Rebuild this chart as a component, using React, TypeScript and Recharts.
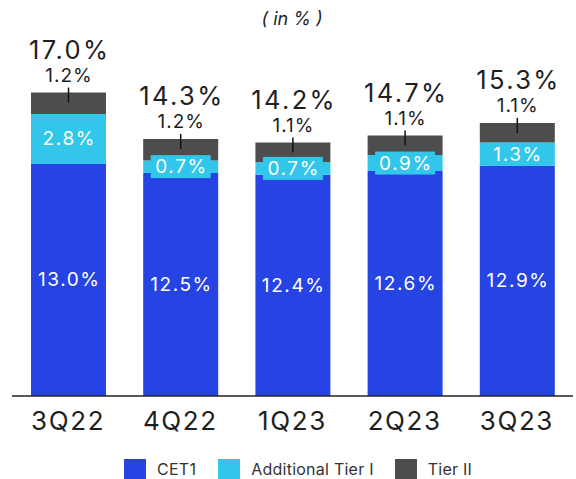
import React from "react";
import { BarChart, Bar, XAxis, YAxis, LabelList } from "recharts";

const quarters = ["3Q22", "4Q22", "1Q23", "2Q23", "3Q23"];
const cet1 = [13.0, 12.5, 12.4, 12.6, 12.9];
const additionalTier1 = [2.8, 0.7, 0.7, 0.9, 1.3];
const tier2 = [1.2, 1.2, 1.1, 1.1, 1.1];
const totals = [17.0, 14.3, 14.2, 14.7, 15.3];

const COLORS = { cet1: "#2643E4", at1: "#32C6EB", tier2: "#4D4D4D" };
const FONT = "Inter, 'Open Sans', sans-serif";
const TEXT = "#1f1f1f";

const data = quarters.map((q, i) => ({
  quarter: q,
  cet1: cet1[i],
  at1: additionalTier1[i],
  tier2: tier2[i],
  total: totals[i],
}));

const pct = (v: number) => `${v.toFixed(1)}%`;

const Cet1Label = (props: any) => {
  const { x, y, width, height, value } = props;
  return (
    <text
      x={x + width / 2 + 0.8}
      y={y + height / 2}
      textAnchor="middle"
      dominantBaseline="central"
      fill="#ffffff"
      fontSize={19}
      letterSpacing={1.6}
      fontFamily={FONT}
    >
      {pct(value)}
    </text>
  );
};

const At1Label = (props: any) => {
  const { x, y, width, height, value } = props;
  const cx = x + width / 2;
  const cy = y + height / 2;
  const bw = 60;
  const bh = 23;
  return (
    <g>
      <rect x={cx - bw / 2} y={cy - bh / 2} width={bw} height={bh} fill={COLORS.at1} />
      <text
        x={cx + 0.8}
        y={cy}
        textAnchor="middle"
        dominantBaseline="central"
        fill="#ffffff"
        fontSize={19}
        letterSpacing={1.6}
        fontFamily={FONT}
      >
        {pct(value)}
      </text>
    </g>
  );
};

const Tier2Label = (props: any) => {
  const { x, y, width, value, index } = props;
  const cx = x + width / 2;
  return (
    <g>
      <line x1={cx} x2={cx} y1={y - 5} y2={y + 10} stroke="#111" strokeWidth={1.5} />
      <text
        x={cx + 0.5}
        y={y - 17}
        textAnchor="middle"
        dominantBaseline="central"
        fill={TEXT}
        fontSize={19}
        letterSpacing={1}
        fontFamily={FONT}
      >
        {pct(value)}
      </text>
      <text
        x={cx + 1.2}
        y={y - 43}
        textAnchor="middle"
        dominantBaseline="central"
        fill={TEXT}
        fontSize={25.5}
        letterSpacing={2.4}
        fontFamily={FONT}
      >
        {pct(totals[index])}
      </text>
    </g>
  );
};

const legendItems = [
  { label: "CET1", color: COLORS.cet1 },
  { label: "Additional Tier I", color: COLORS.at1 },
  { label: "Tier II", color: COLORS.tier2 },
];

export default function App() {
  return (
    <div style={{ position: "absolute", left: 0, top: 0, width: 576, height: 479, background: "#fff" }}>
      <div
        style={{
          position: "absolute",
          left: 0,
          width: 584,
          top: 6,
          textAlign: "center",
          fontFamily: FONT,
          fontStyle: "italic",
          fontSize: 18,
          color: TEXT,
          lineHeight: "26px",
        }}
      >
        ( in % )
      </div>
      <BarChart
        width={576}
        height={479}
        data={data}
        margin={{ top: 39, right: 3, bottom: 53, left: 12 }}
      >
        <XAxis
          dataKey="quarter"
          height={30}
          axisLine={{ stroke: "#222", strokeWidth: 1.5 }}
          tickLine={false}
          tickMargin={10}
          tick={{ fill: TEXT, fontSize: 26, fontFamily: FONT, letterSpacing: 1.6 }}
        />
        <YAxis hide domain={[0, 20]} />
        <Bar dataKey="cet1" stackId="a" fill={COLORS.cet1} barSize={75} isAnimationActive={false}>
          <LabelList dataKey="cet1" content={Cet1Label} />
        </Bar>
        <Bar dataKey="at1" stackId="a" fill={COLORS.at1} barSize={75} isAnimationActive={false}>
          <LabelList dataKey="at1" content={At1Label} />
        </Bar>
        <Bar dataKey="tier2" stackId="a" fill={COLORS.tier2} barSize={75} isAnimationActive={false}>
          <LabelList dataKey="tier2" content={Tier2Label} />
        </Bar>
      </BarChart>
      <div
        style={{
          position: "absolute",
          top: 459,
          left: 124,
          display: "flex",
          alignItems: "center",
          fontFamily: FONT,
          fontSize: 16,
          color: "#333",
          height: 20,
          letterSpacing: 0.25,
        }}
      >
        {legendItems.map((item, i) => (
          <div key={item.label} style={{ display: "flex", alignItems: "center", marginRight: i === 0 ? 22 : 21 }}>
            <span style={{ display: "inline-block", width: 22, height: 20, background: item.color, marginRight: 11 }} />
            <span>{item.label}</span>
          </div>
        ))}
      </div>
    </div>
  );
}
